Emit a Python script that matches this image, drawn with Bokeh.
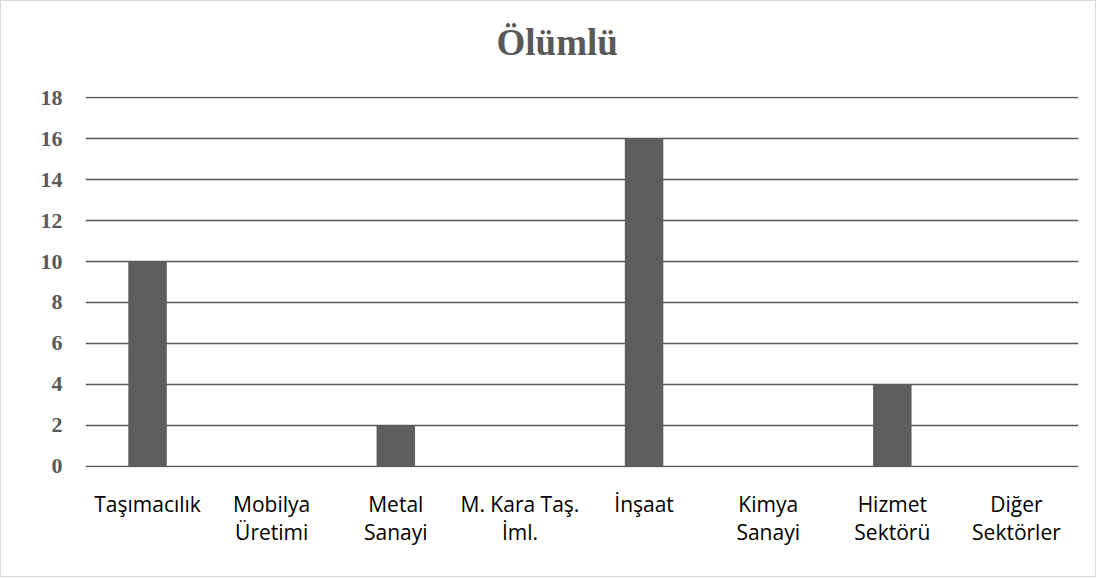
from bokeh.plotting import figure
from bokeh.models import FactorRange, Range1d, FixedTicker, Title
from bokeh.embed import file_html
from bokeh.resources import INLINE

categories = ["Taşımacılık", "Mobilya\nÜretimi", "Metal\nSanayi", "M. Kara Taş.\nİml.",
              "İnşaat", "Kimya\nSanayi", "Hizmet\nSektörü", "Diğer\nSektörler"]
values = [10, 0, 2, 0, 16, 0, 4, 0]
y_ticks = [0, 2, 4, 6, 8, 10, 12, 14, 16, 18]
title_text = "Ölümlü"

p = figure(x_range=FactorRange(*categories, range_padding=0),
           y_range=Range1d(-0.05, 18.05), title=None,
           width=1096, height=577, output_backend="svg", toolbar_location=None,
           min_border_left=84, min_border_right=19, min_border_top=95, min_border_bottom=111)

p.vbar(x=categories, top=values, width=0.31, fill_color="#5e5e5e", line_color=None)

spacer = Title(text=" ", text_font_size="29px", standoff=0)
p.add_layout(spacer, "above")
title = Title(text=title_text, align="left", offset=411, standoff=0,
              text_font="Liberation Serif", text_font_size="37px", text_font_style="bold",
              text_color="#595959")
p.add_layout(title, "above")

p.outline_line_color = None
p.background_fill_color = "white"
p.border_fill_color = "white"

p.xgrid.grid_line_color = None
p.ygrid.grid_line_color = "#5a5a5a"
p.ygrid.grid_line_width = 1.5
p.ygrid.ticker = FixedTicker(ticks=y_ticks)

p.yaxis.ticker = FixedTicker(ticks=y_ticks)
p.yaxis.axis_line_color = None
p.yaxis.major_tick_line_color = None
p.yaxis.minor_tick_line_color = None
p.yaxis.major_label_text_font = "Liberation Serif"
p.yaxis.major_label_text_font_style = "bold"
p.yaxis.major_label_text_font_size = "22px"
p.yaxis.major_label_text_color = "#595959"
p.yaxis.major_label_standoff = 17

p.xaxis.axis_line_color = None
p.xaxis.major_tick_line_color = None
p.xaxis.minor_tick_line_color = None
p.xaxis.major_label_text_font = "Open Sans"
p.xaxis.major_label_text_font_size = "21px"
p.xaxis.major_label_text_color = "black"
p.xaxis.major_label_text_line_height = 1.0
p.xaxis.major_label_standoff = 16

p.styles = {"border": "1px solid #d9d9d9", "box-sizing": "border-box"}

open("out.html", "w").write(file_html(p, INLINE))
